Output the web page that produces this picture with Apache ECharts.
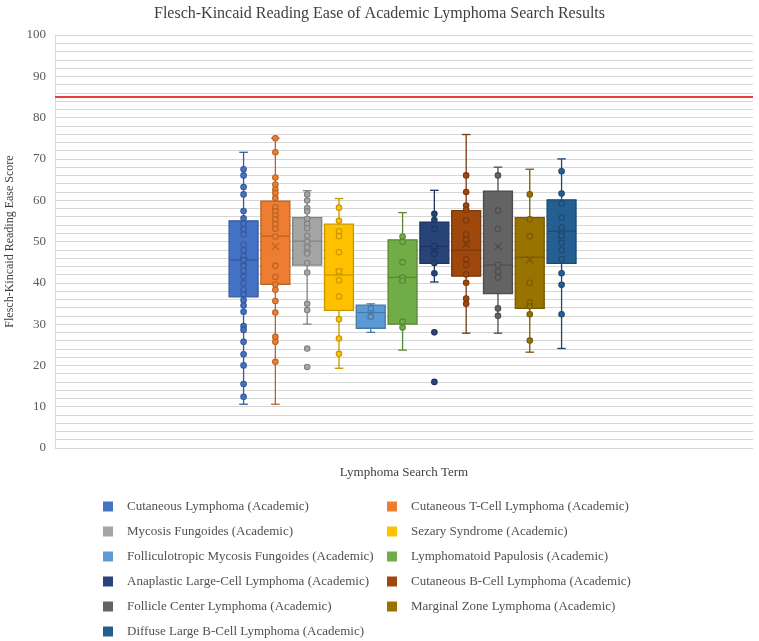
<!DOCTYPE html>
<html><head><meta charset="utf-8">
<script src="https://cdn.jsdelivr.net/npm/echarts/dist/echarts.min.js"></script>
<style>html,body{margin:0;padding:0;background:#fff}#c{width:759px;height:641px}</style>
</head><body><div id="c"></div>
<script>
const categories = [
  'Cutaneous Lymphoma (Academic)',
  'Cutaneous T-Cell Lymphoma (Academic)',
  'Mycosis Fungoides (Academic)',
  'Sezary Syndrome (Academic)',
  'Folliculotropic Mycosis Fungoides (Academic)',
  'Lymphomatoid Papulosis (Academic)',
  'Anaplastic Large-Cell Lymphoma (Academic)',
  'Cutaneous B-Cell Lymphoma (Academic)',
  'Follicle Center Lymphoma (Academic)',
  'Marginal Zone Lymphoma (Academic)',
  'Diffuse Large B-Cell Lymphoma (Academic)'
];
const minValues    = [10.6, 10.6, 30.0, 19.3, 28.0, 23.7, 40.2, 27.8, 27.8, 23.2, 24.1];
const q1Values     = [36.6, 39.6, 44.3, 33.3, 29.0, 30.0, 44.7, 41.6, 37.4, 33.8, 44.7];
const medianValues = [45.5, 51.3, 50.1, 41.9, 32.8, 41.3, 48.8, 47.9, 44.3, 46.2, 52.5];
const q3Values     = [55.0, 59.8, 55.8, 54.2, 34.6, 50.4, 54.7, 57.5, 62.2, 55.8, 60.1];
const maxValues    = [71.6, 75.0, 62.3, 60.4, 34.9, 57.0, 62.4, 75.9, 68.0, 67.5, 70.0];
const meanValues   = [45.2, 48.8, 48.3, 42.6, 32.2, 41.0, 47.6, 49.3, 48.8, 45.6, 51.5];
const pointValues = [
  [67.5, 66.0, 63.2, 61.4, 57.4, 55.6, 54.3, 53.0, 51.7, 49.2, 47.9, 46.5, 45.5, 44.1, 42.9, 41.5, 39.9, 38.3, 37.2, 35.8, 34.5, 33.0, 29.5, 28.6, 25.7, 22.7, 20.0, 15.5, 12.4],
  [75.0, 71.6, 65.5, 63.8, 62.6, 61.7, 60.5, 58.3, 57.3, 56.3, 55.3, 54.2, 53.1, 51.2, 44.1, 41.4, 39.6, 38.3, 35.6, 32.8, 26.9, 25.7, 20.9],
  [61.4, 59.9, 58.1, 57.3, 55.5, 54.3, 53.2, 51.4, 50.0, 48.6, 47.1, 44.8, 42.5, 34.9, 33.4, 24.1, 19.6],
  [58.2, 55.0, 52.5, 51.3, 47.4, 42.8, 40.6, 36.7, 31.2, 26.5, 22.8],
  [33.8, 31.8],
  [51.2, 49.9, 45.0, 41.3, 40.5, 30.6, 29.2],
  [56.7, 55.2, 53.0, 48.9, 47.0, 44.8, 42.3, 28.0, 16.0],
  [66.0, 62.0, 58.7, 57.7, 55.1, 51.7, 50.5, 45.7, 44.3, 42.0, 40.0, 36.2, 34.9],
  [66.0, 57.5, 53.0, 44.3, 42.7, 41.3, 33.8, 32.0],
  [61.4, 55.4, 51.3, 40.0, 35.2, 34.3, 32.4, 26.0],
  [67.0, 61.6, 59.2, 55.8, 53.4, 51.4, 49.7, 47.9, 45.7, 42.3, 39.5, 32.4]
];
const referenceValue = 85;
const yMin = 0, yMax = 100, yInterval = 10;
const titleText = 'Flesch-Kincaid Reading Ease of Academic Lymphoma Search Results';
const yAxisTitle = 'Flesch-Kincaid Reading Ease Score';
const xAxisTitle = 'Lymphoma Search Term';

const palette = ['#4472C4','#ED7D31','#A5A5A5','#FFC000','#5B9BD5','#70AD47','#264478','#9E480E','#636363','#997300','#255E91'];
const FONT = "'Liberation Serif','Times New Roman',serif";

function darken(hex, f) {
  const n = parseInt(hex.slice(1), 16);
  const r = Math.round(((n >> 16) & 255) * (1 - f));
  const g = Math.round(((n >> 8) & 255) * (1 - f));
  const b = Math.round((n & 255) * (1 - f));
  return 'rgb(' + r + ',' + g + ',' + b + ')';
}

function makeRender(color, dark) {
  return function (params, api) {
    const x = api.value(0);
    const c = k => api.coord([x, api.value(k)]);
    const pMin = c(1), pQ1 = c(2), pMed = c(3), pQ3 = c(4), pMax = c(5), pMean = c(6);
    const w = api.size([0.91, 0])[0];
    const cap = api.size([0.27, 0])[0];
    const cx = pMin[0];
    const ls = { stroke: dark, lineWidth: 1.3 };
    const m = 3.6;
    return {
      type: 'group',
      children: [
        { type: 'line', shape: { x1: cx, y1: pMax[1], x2: cx, y2: pQ3[1] }, style: ls },
        { type: 'line', shape: { x1: cx, y1: pQ1[1], x2: cx, y2: pMin[1] }, style: ls },
        { type: 'line', shape: { x1: cx - cap / 2, y1: pMax[1], x2: cx + cap / 2, y2: pMax[1] }, style: ls },
        { type: 'line', shape: { x1: cx - cap / 2, y1: pMin[1], x2: cx + cap / 2, y2: pMin[1] }, style: ls },
        { type: 'rect', shape: { x: cx - w / 2, y: pQ3[1], width: w, height: pQ1[1] - pQ3[1] }, style: { fill: color, stroke: dark, lineWidth: 1.3 } },
        { type: 'line', shape: { x1: cx - w / 2, y1: pMed[1], x2: cx + w / 2, y2: pMed[1] }, style: { stroke: dark, lineWidth: 1.2 } },
        { type: 'line', z2: 20, shape: { x1: cx - m, y1: pMean[1] - m, x2: cx + m, y2: pMean[1] + m }, style: { stroke: dark, lineWidth: 1.2 } },
        { type: 'line', z2: 20, shape: { x1: cx - m, y1: pMean[1] + m, x2: cx + m, y2: pMean[1] - m }, style: { stroke: dark, lineWidth: 1.2 } }
      ]
    };
  };
}

const series = [];
categories.forEach((name, i) => {
  const color = palette[i];
  const dark = darken(color, 0.22);
  series.push({
    name: name,
    type: 'custom',
    xAxisIndex: 0, yAxisIndex: 0,
    itemStyle: { color: color },
    renderItem: makeRender(color, dark),
    encode: { x: 0, y: [1, 2, 3, 4, 5, 6] },
    data: [[i + 1, minValues[i], q1Values[i], medianValues[i], q3Values[i], maxValues[i], meanValues[i]]],
    z: 2, silent: true
  });
  const s = {
    name: name,
    type: 'scatter',
    symbol: 'circle',
    symbolSize: 5.5,
    itemStyle: { color: color, borderColor: dark, borderWidth: 1.1, opacity: 1 },
    data: pointValues[i].map(v => [i + 1, v]),
    z: 3, silent: true
  };
  if (i === 0) {
    s.markLine = {
      silent: true, symbol: 'none', label: { show: false },
      lineStyle: { color: '#E8413C', width: 2, type: 'solid' },
      data: [{ yAxis: referenceValue }]
    };
  }
  series.push(s);
});

const legendBase = {
  orient: 'vertical', icon: 'rect', itemWidth: 10, itemHeight: 10, itemGap: 12,
  padding: 0, height: 200,
  selectedMode: false,
  textStyle: { fontFamily: FONT, fontSize: 13, color: '#505050', padding: [0, 0, 0, 9] }
};

const option = {
  backgroundColor: '#fff',
  animation: false,
  title: {
    text: titleText, left: 'center', top: 1,
    textStyle: { fontFamily: FONT, fontSize: 16, fontWeight: 'normal', color: '#404040' }
  },
  legend: [
    Object.assign({}, legendBase, { left: 103, top: 500, data: categories.filter((_, i) => i % 2 === 0).map(n => ({ name: n, itemStyle: { color: palette[categories.indexOf(n)] } })) }),
    Object.assign({}, legendBase, { left: 387, top: 500, data: categories.filter((_, i) => i % 2 === 1).map(n => ({ name: n, itemStyle: { color: palette[categories.indexOf(n)] } })) })
  ],
  grid: { left: 55, right: 6, top: 35, bottom: 193, containLabel: false, outerBoundsMode: 'none' },
  xAxis: {
    type: 'value', min: -4.93, max: 17.02,
    axisLabel: { show: false }, axisTick: { show: false }, axisLine: { show: false }, splitLine: { show: false },
    name: xAxisTitle, nameLocation: 'middle', nameGap: 18,
    nameTextStyle: { fontFamily: FONT, fontSize: 13, color: '#404040' }
  },
  yAxis: {
    type: 'value', min: yMin, max: yMax, interval: yInterval,
    axisLine: { show: true, onZero: false, lineStyle: { color: '#d9d9d9' } },
    axisTick: { show: false },
    axisLabel: { fontFamily: FONT, fontSize: 13, color: '#595959', margin: 9 },
    splitLine: { show: true, lineStyle: { color: '#d6d6d6', width: 1 } },
    minorTick: { show: false, splitNumber: 5 },
    minorSplitLine: { show: true, lineStyle: { color: '#d6d6d6', width: 1 } },
    name: yAxisTitle, nameLocation: 'middle', nameGap: 38,
    nameTextStyle: { fontFamily: FONT, fontSize: 12, color: '#404040' }
  },
  series: series
};

const chart = echarts.init(document.getElementById('c'), null, { renderer: 'canvas' });
chart.setOption(option);
</script>
</body></html>
